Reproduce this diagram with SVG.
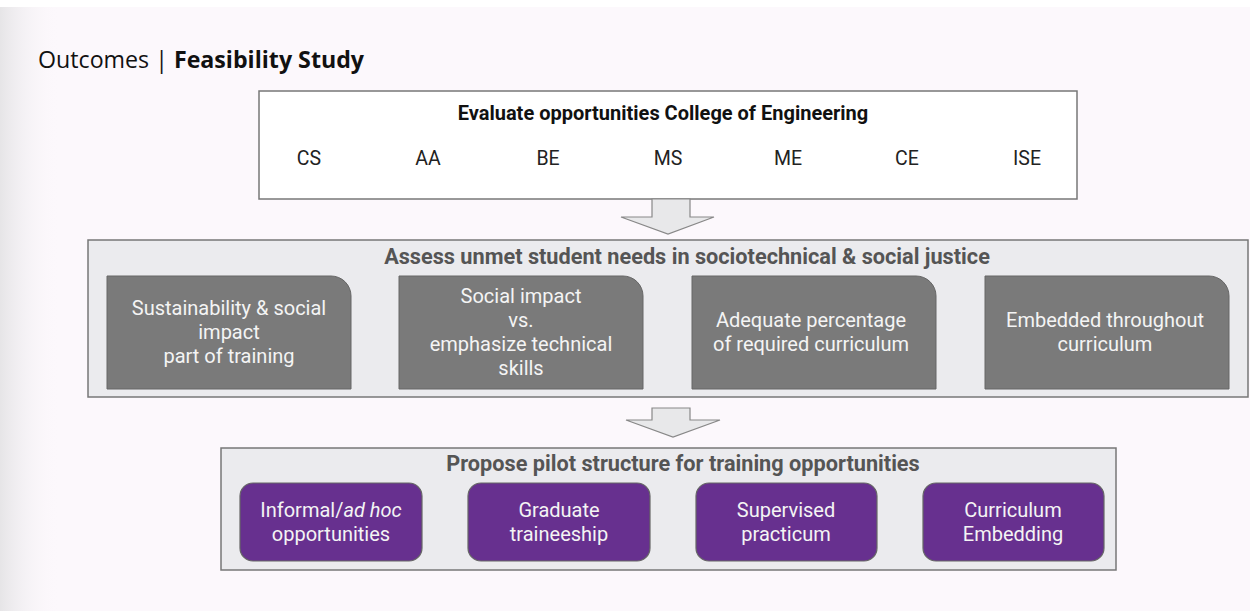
<svg xmlns="http://www.w3.org/2000/svg" width="1250" height="611" viewBox="0 0 1250 611">
<defs>
<linearGradient id="leftShade" x1="0" y1="0" x2="1" y2="0">
<stop offset="0" stop-color="#e6e5e7"/>
<stop offset="1" stop-color="#fcf8fc" stop-opacity="0"/>
</linearGradient>
<style>
.title{font-family:"Open Sans",Lato,sans-serif;font-size:23.2px;fill:#111}
.hdr{font-family:Roboto,"Liberation Sans",sans-serif;font-weight:bold;text-anchor:middle}
.dept{font-family:Roboto,"Liberation Sans",sans-serif;font-size:19.5px;fill:#222;text-anchor:middle}
.container{fill:#ebebee;stroke:#777;stroke-width:1.5}
.grey{fill:#7a7a7a;stroke:#666;stroke-width:1}
.purple{fill:#67308f;stroke:#666;stroke-width:1.2}
.wt{font-family:Roboto,"Liberation Sans",sans-serif;font-size:20px;fill:#f4f4f4;text-anchor:middle}
.arrow{fill:#e8e8ea;stroke:#888;stroke-width:1.2}
</style>
</defs>
<rect x="0" y="0" width="1250" height="611" fill="#fcf8fc"/>
<rect x="0" y="0" width="1250" height="7" fill="#ffffff"/>
<rect x="0" y="7" width="60" height="604" fill="url(#leftShade)"/>

<g id="title">
<text class="title" x="38" y="68">Outcomes | <tspan font-weight="bold">Feasibility Study</tspan></text>
</g>

<g id="node-evaluate">
<rect x="259" y="91" width="818" height="108" fill="#ffffff" stroke="#777" stroke-width="1.5"/>
<text class="hdr" x="663" y="120" font-size="20" fill="#111">Evaluate opportunities College of Engineering</text>
<text class="dept" x="309" y="165">CS</text>
<text class="dept" x="428" y="165">AA</text>
<text class="dept" x="548" y="165">BE</text>
<text class="dept" x="668" y="165">MS</text>
<text class="dept" x="788" y="165">ME</text>
<text class="dept" x="907" y="165">CE</text>
<text class="dept" x="1027" y="165">ISE</text>
</g>

<g id="connectors">
<path class="arrow" d="M652,199 L690,199 L690,217 L714,217 L668,234 L621,217 L652,217 Z"/>
<path class="arrow" d="M652,408 L690,408 L690,420 L720,420 L673,437 L626,420 L652,420 Z"/>
</g>

<g id="node-assess">
<rect class="container" x="88" y="240" width="1160" height="157"/>
<text class="hdr" x="687" y="264" font-size="21.7" fill="#555">Assess unmet student needs in sociotechnical &amp; social justice</text>
</g>

<g id="node-sustainability">
<path class="grey" d="M107,276 H331 A20,20 0 0 1 351,296 V389 H107 Z"/>
<text class="wt" x="229" y="315">Sustainability &amp; social</text>
<text class="wt" x="229" y="339">impact</text>
<text class="wt" x="229" y="363">part of training</text>
</g>

<g id="node-social-impact">
<path class="grey" d="M399,276 H623 A20,20 0 0 1 643,296 V389 H399 Z"/>
<text class="wt" x="521" y="303">Social impact</text>
<text class="wt" x="521" y="327">vs.</text>
<text class="wt" x="521" y="351">emphasize technical</text>
<text class="wt" x="521" y="375">skills</text>
</g>

<g id="node-adequate">
<path class="grey" d="M692,276 H916 A20,20 0 0 1 936,296 V389 H692 Z"/>
<text class="wt" x="811" y="327">Adequate percentage</text>
<text class="wt" x="811" y="351">of required curriculum</text>
</g>

<g id="node-embedded">
<path class="grey" d="M985,276 H1209 A20,20 0 0 1 1229,296 V389 H985 Z"/>
<text class="wt" x="1105" y="327">Embedded throughout</text>
<text class="wt" x="1105" y="351">curriculum</text>
</g>

<g id="node-propose">
<rect class="container" x="221" y="448" width="895" height="122"/>
<text class="hdr" x="683" y="471" font-size="21.7" fill="#555">Propose pilot structure for training opportunities</text>
</g>

<g id="node-informal">
<rect class="purple" x="240" y="483" width="182" height="78" rx="13"/>
<text class="wt" x="331" y="517">Informal/<tspan font-style="italic">ad hoc</tspan></text>
<text class="wt" x="331" y="541">opportunities</text>
</g>

<g id="node-graduate">
<rect class="purple" x="468" y="483" width="182" height="78" rx="13"/>
<text class="wt" x="559" y="517">Graduate</text>
<text class="wt" x="559" y="541">traineeship</text>
</g>

<g id="node-supervised">
<rect class="purple" x="696" y="483" width="181" height="78" rx="13"/>
<text class="wt" x="786" y="517">Supervised</text>
<text class="wt" x="786" y="541">practicum</text>
</g>

<g id="node-curriculum">
<rect class="purple" x="923" y="483" width="181" height="78" rx="13"/>
<text class="wt" x="1013" y="517">Curriculum</text>
<text class="wt" x="1013" y="541">Embedding</text>
</g>
</svg>
